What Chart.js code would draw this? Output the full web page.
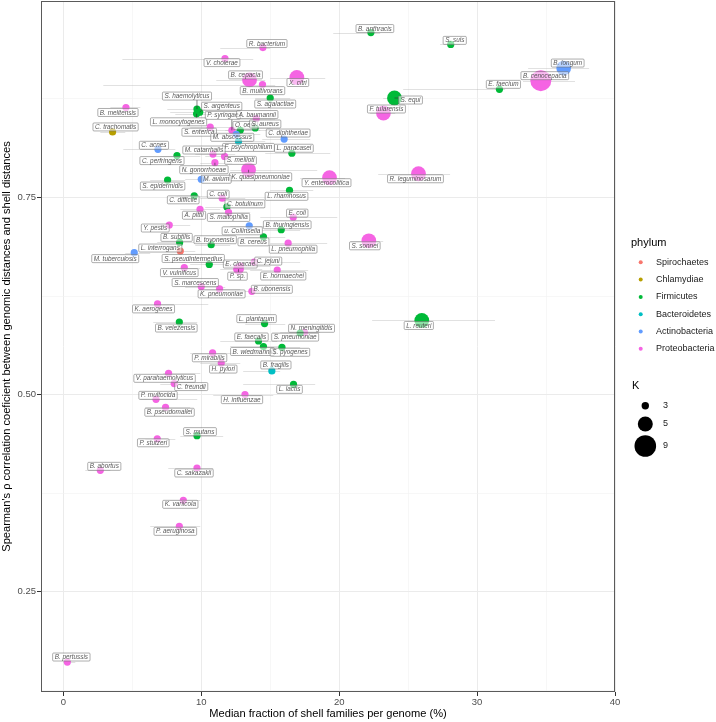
<!DOCTYPE html>
<html>
<head>
<meta charset="utf-8">
<script src="https://cdn.jsdelivr.net/npm/chart.js@4.4.1/dist/chart.umd.min.js"></script>
<style>
  html, body { margin: 0; padding: 0; background: #fff; }
  #wrap { width: 716px; height: 722px; }
</style>
</head>
<body>
<div id="wrap"><canvas id="chart" width="716" height="722"></canvas></div>
<script>
// species shown in the plot
const species = [
  'B. anthracis', 'S. suis', 'R. bacterium', 'V. cholerae', 'B. cepacia', 'X. citri',
  'B. multivorans', 'S. agalactiae', 'S. haemolyticus', 'S. argenteus', 'L. monocytogenes',
  'B. melitensis', 'C. trachomatis', 'S. enterica', 'P. syringae', 'O. oeni', 'A. baumannii',
  'S. aureus', 'M. abscessus', 'F. psychrophilum', 'C. diphtheriae', 'L. paracasei', 'C. acnes',
  'C. perfringens', 'M. catarrhalis', 'S. meliloti', 'N. gonorrhoeae', 'K. quasipneumoniae',
  'S. epidermidis', 'M. avium', 'L. rhamnosus', 'C. difficile', 'C. coli', 'C. botulinum',
  'A. pittii', 'S. maltophilia', 'E. coli', 'B. thuringiensis', 'u. Collinsella', 'Y. pestis',
  'B. subtilis', 'B. toyonensis', 'B. cereus', 'L. pneumophila', 'L. interrogans',
  'M. tuberculosis', 'S. pseudintermedius', 'E. cloacae', 'P. sp.', 'C. jejuni', 'E. hormaechei',
  'V. vulnificus', 'S. marcescens', 'K. pneumoniae', 'B. ubonensis', 'K. aerogenes',
  'B. velezensis', 'L. plantarum', 'N. meningitidis', 'S. pneumoniae', 'E. faecalis',
  'B. wiedmannii', 'S. pyogenes', 'P. mirabilis', 'H. pylori', 'B. fragilis', 'L. lactis',
  'H. influenzae', 'V. parahaemolyticus', 'C. freundii', 'P. multocida', 'B. pseudomallei',
  'S. mutans', 'P. stutzeri', 'B. abortus', 'C. sakazakii', 'K. variicola', 'P. aeruginosa',
  'B. pertussis', 'S. equi', 'F. tularensis', 'R. leguminosarum', 'Y. enterocolitica',
  'S. sonnei', 'L. reuteri', 'E. faecium', 'B. cenocepacia', 'B. longum'
];

const phylum = [
  'Firmicutes', 'Firmicutes', 'Proteobacteria', 'Proteobacteria', 'Proteobacteria', 'Proteobacteria',
  'Proteobacteria', 'Firmicutes', 'Firmicutes', 'Firmicutes', 'Firmicutes',
  'Proteobacteria', 'Chlamydiae', 'Proteobacteria', 'Proteobacteria', 'Firmicutes', 'Proteobacteria',
  'Firmicutes', 'Actinobacteria', 'Bacteroidetes', 'Actinobacteria', 'Firmicutes', 'Actinobacteria',
  'Firmicutes', 'Proteobacteria', 'Proteobacteria', 'Proteobacteria', 'Proteobacteria',
  'Firmicutes', 'Actinobacteria', 'Firmicutes', 'Firmicutes', 'Proteobacteria', 'Firmicutes',
  'Proteobacteria', 'Proteobacteria', 'Proteobacteria', 'Firmicutes', 'Actinobacteria', 'Proteobacteria',
  'Firmicutes', 'Firmicutes', 'Firmicutes', 'Proteobacteria', 'Spirochaetes',
  'Actinobacteria', 'Firmicutes', 'Proteobacteria', 'Proteobacteria', 'Proteobacteria', 'Proteobacteria',
  'Proteobacteria', 'Proteobacteria', 'Proteobacteria', 'Proteobacteria', 'Proteobacteria',
  'Firmicutes', 'Firmicutes', 'Proteobacteria', 'Firmicutes', 'Firmicutes',
  'Firmicutes', 'Firmicutes', 'Proteobacteria', 'Proteobacteria', 'Bacteroidetes', 'Firmicutes',
  'Proteobacteria', 'Proteobacteria', 'Proteobacteria', 'Proteobacteria', 'Proteobacteria',
  'Firmicutes', 'Proteobacteria', 'Proteobacteria', 'Proteobacteria', 'Proteobacteria', 'Proteobacteria',
  'Proteobacteria', 'Firmicutes', 'Proteobacteria', 'Proteobacteria', 'Proteobacteria',
  'Proteobacteria', 'Firmicutes', 'Firmicutes', 'Proteobacteria', 'Actinobacteria'
];

// median fraction of shell families per genome (%)
const shellFraction = [
  22.30, 28.09, 14.47, 11.72, 13.50, 16.93,
  14.44, 15.00, 9.69, 9.89, 9.66,
  4.54, 3.57, 10.65, 12.22, 12.83, 13.99,
  13.91, 12.54, 12.70, 16.01, 16.57, 6.86,
  8.24, 10.85, 11.69, 10.99, 13.43,
  7.56, 10.00, 16.40, 9.49, 11.52, 11.86,
  9.91, 11.98, 16.67, 15.80, 13.48, 7.68,
  8.43, 10.72, 14.51, 16.30, 8.48,
  5.14, 10.58, 12.83, 12.70, 13.84, 15.51,
  8.77, 10.00, 11.33, 13.67, 6.83,
  8.41, 14.59, 17.49, 17.17, 14.15,
  14.51, 15.85, 10.82, 11.45, 15.12, 16.69,
  13.17, 7.63, 8.04, 6.72, 7.41,
  9.69, 6.81, 2.68, 9.69, 8.70, 8.41,
  0.29, 24.01, 23.21, 25.75, 19.30,
  22.15, 25.99, 31.62, 34.62, 36.28
];

// Spearman's rho between genomic distances and shell distances
const spearmanRho = [
  0.959, 0.944, 0.940, 0.926, 0.899, 0.902,
  0.893, 0.876, 0.862, 0.858, 0.856,
  0.864, 0.833, 0.839, 0.835, 0.835, 0.850,
  0.838, 0.830, 0.821, 0.824, 0.806, 0.811,
  0.803, 0.805, 0.802, 0.794, 0.785,
  0.772, 0.773, 0.759, 0.752, 0.749, 0.738,
  0.735, 0.731, 0.725, 0.709, 0.714, 0.715,
  0.693, 0.690, 0.700, 0.692, 0.682,
  0.680, 0.665, 0.663, 0.659, 0.668, 0.658,
  0.661, 0.637, 0.634, 0.631, 0.615,
  0.592, 0.590, 0.579, 0.578, 0.568,
  0.561, 0.560, 0.553, 0.540, 0.530, 0.513,
  0.500, 0.527, 0.514, 0.494, 0.484,
  0.448, 0.444, 0.404, 0.407, 0.366, 0.333,
  0.161, 0.876, 0.857, 0.780, 0.775,
  0.695, 0.594, 0.887, 0.898, 0.914
];

// horizontal range of the shell fraction (lower / upper end of each grey bar)
const fractionLow = [
  19.57, 27.32, 11.38, 4.28, 11.09, 15.00,
  2.90, 13.91, 7.54, 7.75, 8.12,
  3.41, 2.68, 9.20, 9.93, 11.74, 12.83,
  12.83, 11.01, 11.74, 14.42, 14.64, 4.35,
  7.03, 9.57, 10.29, 9.93, 12.10,
  6.30, 8.84, 15.00, 8.12, 9.93, 10.29,
  8.48, 10.65, 14.28, 14.42, 12.10, 6.30,
  6.81, 9.57, 13.19, 15.00, 7.39,
  4.49, 9.20, 11.74, 11.38, 12.83, 13.55,
  7.75, 8.84, 9.93, 12.10, 6.81,
  6.52, 13.19, 15.72, 15.22, 11.38,
  12.10, 14.28, 9.20, 9.93, 13.04, 13.04,
  10.87, 7.25, 7.03, 5.58, 5.94,
  8.48, 5.94, 1.59, 7.61, 7.75, 6.30,
  0.00, 23.19, 22.25, 22.83, 17.17,
  20.80, 22.39, 24.64, 33.33, 33.70
];
const fractionHigh = [
  22.97, 28.77, 15.00, 13.77, 14.64, 18.99,
  15.36, 16.45, 10.29, 10.65, 11.01,
  5.58, 4.49, 13.19, 15.00, 14.28, 15.36,
  15.00, 14.28, 14.64, 17.90, 19.35, 8.12,
  9.93, 12.46, 13.19, 12.25, 18.41,
  8.84, 12.10, 18.12, 11.01, 13.19, 14.64,
  11.38, 13.55, 19.86, 17.17, 15.00, 9.20,
  9.93, 12.10, 16.09, 19.13, 9.57,
  6.30, 12.83, 15.00, 14.42, 17.17, 17.75,
  9.93, 11.74, 12.83, 15.00, 10.51,
  9.71, 16.09, 18.62, 18.48, 15.51,
  16.09, 17.17, 12.46, 12.83, 15.72, 18.26,
  15.22, 9.93, 9.93, 9.71, 9.20,
  11.59, 8.12, 3.41, 10.87, 9.93, 9.93,
  0.87, 25.14, 24.06, 28.04, 20.43,
  23.19, 31.30, 32.03, 37.10, 38.12
];

// K (point size)
const kValues = [
  3, 3, 3, 3, 5, 5,
  3, 3, 3, 3, 3,
  3, 3, 3, 3, 3, 3,
  3, 3, 3, 3, 3, 3,
  3, 3, 3, 3, 5,
  3, 3, 3, 3, 3, 3,
  3, 3, 3, 3, 3, 3,
  3, 3, 3, 3, 3,
  3, 3, 3, 4, 3, 3,
  3, 3, 3, 3, 3,
  3, 3, 3, 3, 3,
  3, 3, 3, 3, 3, 3,
  3, 3, 3, 3, 3,
  3, 3, 3, 3, 3, 3,
  3, 5, 5, 5, 5,
  5, 5, 3, 9, 5
];

const phylumOrder = ['Spirochaetes', 'Chlamydiae', 'Firmicutes', 'Bacteroidetes', 'Actinobacteria', 'Proteobacteria'];
const kBreaks = [3, 5, 9];
const xTicks = [0, 5, 10, 15, 20, 25, 30, 35, 40];
const yTicks = [0.125, 0.25, 0.375, 0.5, 0.625, 0.75, 0.875];

const phylumColors = {
  Spirochaetes: '#F8766D',
  Chlamydiae: '#B79F00',
  Firmicutes: '#00BA38',
  Bacteroidetes: '#00BFC4',
  Actinobacteria: '#619CFF',
  Proteobacteria: '#F564E3'
};

function radiusForK(k) {
  if (k <= 3) return 3.6;
  if (k === 4) return 5.4;
  if (k === 5) return 7.4;
  return 3.6 + (k - 3) * 1.15;
}

// where each label box sits relative to its point (px), like ggrepel placed them
const labelOffsets = [
  [4, -4], [4, -4], [4, -4], [-3, 4], [-4, -5], [1, 5],
  [0, 6], [5, 6], [-10, -13], [22, -6], [-18, 8],
  [-8, 5], [3, -5], [-11, 5], [-9, -15], [5, -5], [1, -4],
  [10, -4], [-4, 3], [10, 6], [4, -6], [2, -5], [-4, -4],
  [-15, 5], [-9, -4], [16, 4], [-11, 7], [12, 7],
  [-5, 6], [15, 0], [-3, 6], [-11, 4], [-4, -4], [18, -3],
  [-6, 6], [0, 5], [4, -4], [6, -5], [-7, 5], [-14, 3],
  [-3, -5], [4, -5], [-10, 5], [5, 6], [-20, -3],
  [-19, 6], [-16, -6], [0, -2], [-1, 7], [14, -1], [6, 6],
  [-5, 5], [-6, -4], [2, 5], [20, -2], [-4, 5],
  [-3, 6], [-8, -5], [7, -4], [-5, 4], [-7, -4],
  [-11, 5], [8, 5], [-3, 5], [2, 6], [4, -6], [-4, 5],
  [-3, 5], [-4, 5], [17, 3], [2, -4], [4, 5],
  [3, -4], [-4, 4], [4, -4], [-3, 5], [-3, 4], [-4, 5],
  [4, -5], [16, 2], [3, -4], [-3, 5], [-3, 5],
  [-4, 5], [-3, 5], [4, -5], [4, -5], [4, -5]
];

const FONT = '"Liberation Sans", Arial, Helvetica, sans-serif';

const points = species.map((s, i) => ({ x: shellFraction[i], y: spearmanRho[i] }));

const isMajorX = v => v % 10 === 0;
const isMajorY = v => Math.abs(v * 4 - Math.round(v * 4)) < 1e-9;

// grey horizontal ranges behind the points
const rangeBars = {
  id: 'rangeBars',
  beforeDatasetsDraw(chart) {
    const { ctx, scales: { x, y }, chartArea } = chart;
    ctx.save();
    ctx.beginPath();
    ctx.rect(chartArea.left, chartArea.top, chartArea.right - chartArea.left, chartArea.bottom - chartArea.top);
    ctx.clip();
    ctx.strokeStyle = 'rgba(170,170,170,0.45)';
    ctx.lineWidth = 0.8;
    for (let i = 0; i < species.length; i++) {
      const yy = Math.round(y.getPixelForValue(spearmanRho[i])) + 0.5;
      ctx.beginPath();
      ctx.moveTo(x.getPixelForValue(fractionLow[i]), yy);
      ctx.lineTo(x.getPixelForValue(fractionHigh[i]), yy);
      ctx.stroke();
    }
    ctx.restore();
  }
};

// label boxes with the species names
const speciesLabels = {
  id: 'speciesLabels',
  afterDatasetsDraw(chart) {
    const { ctx } = chart;
    const meta = chart.getDatasetMeta(0);
    ctx.save();
    ctx.font = 'italic 6.4px ' + FONT;
    ctx.textAlign = 'center';
    ctx.textBaseline = 'middle';
    for (let i = 0; i < species.length; i++) {
      const pt = meta.data[i];
      const cx = pt.x + labelOffsets[i][0];
      const cy = pt.y + labelOffsets[i][1];
      const w = ctx.measureText(species[i]).width + 4;
      const h = 8;
      const x0 = cx - w / 2, y0 = cy - h / 2;
      // segment from point to box when box does not touch point
      const nx = Math.min(Math.max(pt.x, x0), x0 + w);
      const ny = Math.min(Math.max(pt.y, y0), y0 + h);
      if (Math.hypot(nx - pt.x, ny - pt.y) > 2.5) {
        ctx.strokeStyle = '#333';
        ctx.lineWidth = 0.6;
        ctx.beginPath();
        ctx.moveTo(pt.x, pt.y);
        ctx.lineTo(nx, ny);
        ctx.stroke();
      }
      ctx.fillStyle = 'rgba(255,255,255,0.55)';
      ctx.strokeStyle = 'rgba(110,110,110,0.8)';
      ctx.lineWidth = 0.7;
      ctx.beginPath();
      ctx.roundRect(x0, y0, w, h, 1);
      ctx.fill();
      ctx.stroke();
      ctx.fillStyle = 'rgba(70,70,70,0.9)';
      ctx.fillText(species[i], cx, cy + 0.3);
    }
    ctx.restore();
  }
};

// panel border + the two legends on the right
const frameAndLegend = {
  id: 'frameAndLegend',
  afterDraw(chart) {
    const { ctx, chartArea } = chart;
    ctx.save();
    ctx.strokeStyle = '#5a5a5a';
    ctx.lineWidth = 1;
    ctx.strokeRect(Math.round(chartArea.left) + 0.5, Math.round(chartArea.top) + 0.5,
      Math.round(chartArea.right - chartArea.left) - 1, Math.round(chartArea.bottom - chartArea.top) - 1);

    ctx.textBaseline = 'middle';
    ctx.textAlign = 'left';
    ctx.fillStyle = '#000';
    ctx.font = '11px ' + FONT;
    ctx.fillText('phylum', 631, 243);
    ctx.font = '9px ' + FONT;
    phylumOrder.forEach((p, i) => {
      const yy = 262.3 + i * 17.3;
      ctx.fillStyle = phylumColors[p];
      ctx.beginPath();
      ctx.arc(640.7, yy, 2, 0, Math.PI * 2);
      ctx.fill();
      ctx.fillStyle = '#1a1a1a';
      ctx.fillText(p, 656, yy);
    });

    ctx.font = '11px ' + FONT;
    ctx.fillStyle = '#000';
    ctx.fillText('K', 632, 386);
    const kY = [405.7, 424, 446];
    const kR = [3.7, 7.5, 10.8];
    ctx.font = '9px ' + FONT;
    kBreaks.forEach((k, i) => {
      ctx.fillStyle = '#000';
      ctx.beginPath();
      ctx.arc(645.3, kY[i], kR[i], 0, Math.PI * 2);
      ctx.fill();
      ctx.fillStyle = '#1a1a1a';
      ctx.fillText(String(k), 663, kY[i]);
    });
    ctx.restore();
  }
};

new Chart(document.getElementById('chart').getContext('2d'), {
  type: 'scatter',
  data: {
    datasets: [{
      data: points,
      backgroundColor: phylum.map(p => phylumColors[p]),
      pointRadius: kValues.map(radiusForK),
      pointBorderWidth: 0,
      borderWidth: 0
    }]
  },
  options: {
    responsive: false,
    animation: false,
    events: [],
    devicePixelRatio: 1,
    layout: { autoPadding: false, padding: { left: 0, right: 101, top: 1, bottom: 0 } },
    plugins: { legend: { display: false }, tooltip: { enabled: false } },
    scales: {
      x: {
        type: 'linear',
        min: -1.62,
        max: 40,
        afterBuildTicks: s => { s.ticks = xTicks.map(v => ({ value: v })); },
        afterFit: s => { s.height = 30; s.paddingLeft = 0; s.paddingRight = 0; },
        border: { display: false },
        grid: {
          color: c => isMajorX(c.tick.value) ? '#ebebeb' : '#f2f2f2',
          lineWidth: c => isMajorX(c.tick.value) ? 1 : 0.6,
          tickColor: c => isMajorX(c.tick.value) ? '#333' : 'rgba(0,0,0,0)',
          tickLength: 4,
          tickWidth: 1
        },
        ticks: {
          autoSkip: false,
          maxRotation: 0,
          padding: 1,
          color: '#4d4d4d',
          font: { family: FONT, size: 9.5 },
          callback: v => isMajorX(v) ? String(v) : ''
        },
        title: {
          display: true,
          text: 'Median fraction of shell families per genome (%)',
          color: '#000',
          font: { family: FONT, size: 11.1 },
          padding: { top: 0, bottom: 1 }
        }
      },
      y: {
        type: 'linear',
        min: 0.123,
        max: 0.999,
        afterBuildTicks: s => { s.ticks = yTicks.map(v => ({ value: v })); },
        afterFit: s => { s.width = 41; s.paddingTop = 0; s.paddingBottom = 0; },
        border: { display: false },
        grid: {
          color: c => isMajorY(c.tick.value) ? '#ebebeb' : '#f2f2f2',
          lineWidth: c => isMajorY(c.tick.value) ? 1 : 0.6,
          tickColor: c => isMajorY(c.tick.value) ? '#333' : 'rgba(0,0,0,0)',
          tickLength: 4,
          tickWidth: 1
        },
        ticks: {
          autoSkip: false,
          padding: 1,
          color: '#4d4d4d',
          font: { family: FONT, size: 9.5 },
          callback: v => isMajorY(v) ? v.toFixed(2) : ''
        },
        title: {
          display: true,
          text: "Spearman's \u03c1 correlation coeficient between genomic distances and shell distances",
          color: '#000',
          font: { family: FONT, size: 11.1 },
          padding: 0
        }
      }
    }
  },
  plugins: [rangeBars, speciesLabels, frameAndLegend]
});
</script>
</body>
</html>
